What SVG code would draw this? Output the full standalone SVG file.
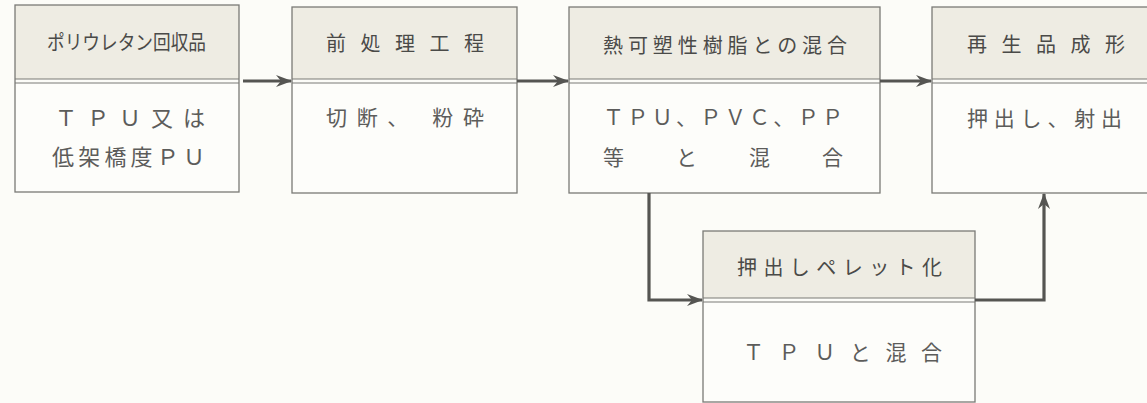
<svg xmlns="http://www.w3.org/2000/svg" width="1147" height="403" viewBox="0 0 1147 403">
<defs>
<style>
.hd{fill:#eeece3;stroke:none}
.bd{fill:#fdfdfa;stroke:none}
.frame{fill:none;stroke:#7a7a76;stroke-width:1.3}
.sep{stroke:#7a7a76;stroke-width:1.2}
.t{font-family:"Noto Sans CJK JP","Noto Sans CJK SC",sans-serif;fill:#4a4a48}
.b{fill:#5c5c5a}
.conn{fill:none;stroke:#555552;stroke-width:3.2;stroke-linejoin:miter}
</style>
<marker id="ah" viewBox="0 0 16 12" refX="15" refY="6" markerWidth="16" markerHeight="12" markerUnits="userSpaceOnUse" orient="auto">
<path d="M0,0 L16,6 L0,12 L5,6 Z" fill="#555552"/>
</marker>
</defs>
<rect width="1147" height="403" fill="#fcfcf8"/>

<g id="node-recovered">
<rect class="hd" x="15" y="5" width="224" height="74"/>
<rect class="bd" x="15" y="83" width="224" height="109"/>
<rect class="frame" x="15" y="5" width="224" height="187"/>
<line class="sep" x1="15" y1="79" x2="239" y2="79"/>
<line class="sep" x1="15" y1="83" x2="239" y2="83"/>
<text class="t" x="47" y="50" font-size="20" textLength="159" lengthAdjust="spacingAndGlyphs">ポリウレタン回収品</text>
<text class="t b" x="55" y="126" font-size="22" textLength="150" lengthAdjust="spacing">ＴＰＵ又は</text>
<text class="t b" x="52" y="165" font-size="22" textLength="153" lengthAdjust="spacing">低架橋度ＰＵ</text>
</g>

<g id="node-pretreat">
<rect class="hd" x="292" y="7" width="225" height="72"/>
<rect class="bd" x="292" y="83" width="225" height="110"/>
<rect class="frame" x="292" y="7" width="225" height="186"/>
<line class="sep" x1="292" y1="79" x2="517" y2="79"/>
<line class="sep" x1="292" y1="83" x2="517" y2="83"/>
<text class="t" x="326" y="51" font-size="20" textLength="158" lengthAdjust="spacing">前処理工程</text>
<text class="t b" x="326" y="125" font-size="21" textLength="158" lengthAdjust="spacing">切断、 粉砕</text>
</g>

<g id="node-mix">
<rect class="hd" x="569" y="7" width="311" height="72"/>
<rect class="bd" x="569" y="83" width="311" height="110"/>
<rect class="frame" x="569" y="7" width="311" height="186"/>
<line class="sep" x1="569" y1="79" x2="880" y2="79"/>
<line class="sep" x1="569" y1="83" x2="880" y2="83"/>
<text class="t" x="603" y="53" font-size="20" textLength="244" lengthAdjust="spacing">熱可塑性樹脂との混合</text>
<text class="t b" x="603" y="125" font-size="21" textLength="240" lengthAdjust="spacing">ＴＰＵ、ＰＶＣ、ＰＰ</text>
<text class="t b" x="603" y="165" font-size="21" textLength="240" lengthAdjust="spacing">等と混合</text>
</g>

<g id="node-molding">
<rect class="hd" x="932" y="7" width="220" height="72"/>
<rect class="bd" x="932" y="83" width="220" height="110"/>
<rect class="frame" x="932" y="7" width="220" height="186"/>
<line class="sep" x1="932" y1="79" x2="1147" y2="79"/>
<line class="sep" x1="932" y1="83" x2="1147" y2="83"/>
<text class="t" x="967" y="52" font-size="20" textLength="158" lengthAdjust="spacing">再生品成形</text>
<text class="t b" x="967" y="126" font-size="21" textLength="155" lengthAdjust="spacing">押出し、射出</text>
</g>

<g id="node-pellet">
<rect class="hd" x="703" y="231" width="272" height="67"/>
<rect class="bd" x="703" y="302" width="272" height="100"/>
<rect class="frame" x="703" y="231" width="272" height="171"/>
<line class="sep" x1="703" y1="298" x2="975" y2="298"/>
<line class="sep" x1="703" y1="302" x2="975" y2="302"/>
<text class="t" x="737" y="275" font-size="20" textLength="205" lengthAdjust="spacing">押出しペレット化</text>
<text class="t b" x="743" y="360" font-size="21" textLength="199" lengthAdjust="spacing">ＴＰＵと混合</text>
</g>

<g id="connectors">
<path class="conn" d="M243,81 H291" marker-end="url(#ah)"/>
<path class="conn" d="M517,81 H568" marker-end="url(#ah)"/>
<path class="conn" d="M880,81 H931" marker-end="url(#ah)"/>
<path class="conn" d="M649,193 V300 H702" marker-end="url(#ah)"/>
<path class="conn" d="M975,300 H1044 V194" marker-end="url(#ah)"/>
</g>
</svg>
